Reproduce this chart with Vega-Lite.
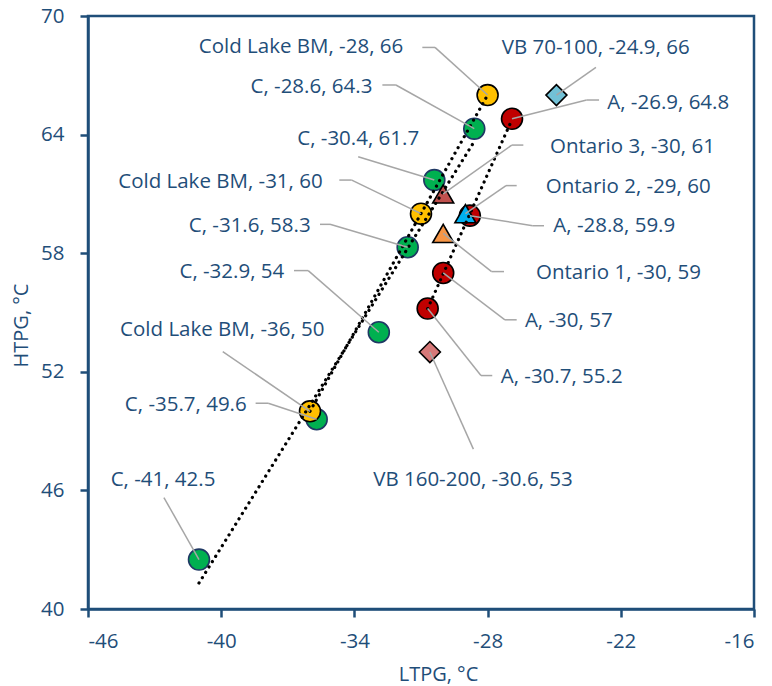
{
  "$schema": "https://vega.github.io/schema/vega-lite/v6.json",
  "width": 666,
  "height": 593,
  "autosize": {"type": "none"},
  "padding": {"left": 88, "top": 16, "right": 18, "bottom": 77},
  "background": "white",
  "config": {
    "font": "Open Sans",
    "view": {"stroke": "#1F4E79", "strokeWidth": 2.5},
    "axis": {
      "domainColor": "#1F4E79", "domainWidth": 2.5,
      "tickColor": "#1F4E79", "tickWidth": 2.5, "tickSize": 8,
      "labelColor": "#1F4E79", "labelFontSize": 20.5, "labelFont": "Open Sans",
      "titleColor": "#1F4E79", "titleFontSize": 20, "titleFont": "Open Sans", "titleFontWeight": "normal",
      "titleAlign": "center",
      "labelExpr": "replace(datum.label, '−', '-')",
      "grid": false
    }
  },
  "datasets": {
    "pts": [
      {"series": "C", "ltpg": -41, "htpg": 42.5, "label": "C, -41, 42.5", "side": "center", "tx": -42.62, "ty": 46.54, "ex": -42.58, "ey": 45.64, "fx": -42.58},
      {"series": "C", "ltpg": -35.7, "htpg": 49.6, "label": "C, -35.7, 49.6", "side": "right", "tx": -38.85, "ty": 50.33, "ex": -37.88, "ey": 50.41, "fx": -38.45},
      {"series": "C", "ltpg": -32.9, "htpg": 54, "label": "C, -32.9, 54", "side": "right", "tx": -37.16, "ty": 57.07, "ex": -36.08, "ey": 57.12, "fx": -36.72},
      {"series": "C", "ltpg": -31.6, "htpg": 58.3, "label": "C, -31.6, 58.3", "side": "right", "tx": -35.97, "ty": 59.38, "ex": -35.1, "ey": 59.46, "fx": -35.55},
      {"series": "C", "ltpg": -30.4, "htpg": 61.7, "label": "C, -30.4, 61.7", "side": "center", "tx": -33.83, "ty": 63.76, "ex": -33.83, "ey": 62.88, "fx": -33.83},
      {"series": "C", "ltpg": -28.6, "htpg": 64.3, "label": "C, -28.6, 64.3", "side": "right", "tx": -33.19, "ty": 66.42, "ex": -32.13, "ey": 66.51, "fx": -32.74},
      {"series": "A", "ltpg": -26.9, "htpg": 64.8, "label": "A, -26.9, 64.8", "side": "left", "tx": -22.61, "ty": 65.61, "ex": -23.54, "ey": 65.75, "fx": -22.98},
      {"series": "A", "ltpg": -28.8, "htpg": 59.9, "label": "A, -28.8, 59.9", "side": "left", "tx": -25.04, "ty": 59.39, "ex": -25.97, "ey": 59.39, "fx": -25.46},
      {"series": "A", "ltpg": -30, "htpg": 57, "label": "A, -30, 57", "side": "left", "tx": -26.32, "ty": 54.59, "ex": -27.22, "ey": 54.63, "fx": -26.69},
      {"series": "A", "ltpg": -30.7, "htpg": 55.2, "label": "A, -30.7, 55.2", "side": "left", "tx": -27.41, "ty": 51.76, "ex": -28.3, "ey": 51.81, "fx": -27.79},
      {"series": "Cold Lake BM", "ltpg": -36, "htpg": 50, "label": "Cold Lake BM, -36, 50", "side": "center", "tx": -39.95, "ty": 54.12, "ex": -39.93, "ey": 53.02, "fx": -39.93},
      {"series": "Cold Lake BM", "ltpg": -31, "htpg": 60, "label": "Cold Lake BM, -31, 60", "side": "right", "tx": -35.43, "ty": 61.62, "ex": -34.12, "ey": 61.7, "fx": -34.68},
      {"series": "Cold Lake BM", "ltpg": -28, "htpg": 66, "label": "Cold Lake BM, -28, 66", "side": "right", "tx": -31.8, "ty": 68.43, "ex": -30.37, "ey": 68.41, "fx": -30.94},
      {"series": "Ontario 1", "ltpg": -30, "htpg": 59, "label": "Ontario 1, -30, 59", "side": "left", "tx": -25.82, "ty": 57.02, "ex": -27.82, "ey": 57.07, "fx": -27.26},
      {"series": "Ontario 2", "ltpg": -29, "htpg": 60, "label": "Ontario 2, -29, 60", "side": "left", "tx": -25.38, "ty": 61.37, "ex": -27.17, "ey": 61.42, "fx": -26.69},
      {"series": "Ontario 3", "ltpg": -30, "htpg": 61, "label": "Ontario 3, -30, 61", "side": "left", "tx": -25.19, "ty": 63.36, "ex": -26.91, "ey": 63.47, "fx": -26.39},
      {"series": "VB 70-100", "ltpg": -24.9, "htpg": 66, "label": "VB 70-100, -24.9, 66", "side": "center", "tx": -23.13, "ty": 68.39, "ex": -23.12, "ey": 67.4, "fx": -23.12},
      {"series": "VB 160-200", "ltpg": -30.6, "htpg": 53, "label": "VB 160-200, -30.6, 53", "side": "center", "tx": -28.66, "ty": 46.54, "ex": -28.64, "ey": 48.09, "fx": -28.64}
    ]
  },
  "data": {"name": "pts"},
  "layer": [
    {
      "mark": {"type": "point", "filled": true, "size": 440, "strokeWidth": 1.6, "opacity": 1},
      "encoding": {
        "x": {"field": "ltpg", "type": "quantitative",
              "scale": {"domain": [-46, -16], "nice": false, "zero": false},
              "axis": {"values": [-46, -40, -34, -28, -22, -16], "title": "LTPG, °C", "labelPadding": 14, "titlePadding": 13, "titleX": 350}},
        "y": {"field": "htpg", "type": "quantitative",
              "scale": {"domain": [40, 70], "nice": false, "zero": false},
              "axis": {"values": [40, 46, 52, 58, 64, 70], "title": "HTPG, °C", "labelPadding": 16, "titlePadding": 9, "titleY": 309}},
        "fill": {"field": "series", "type": "nominal", "legend": null,
                 "scale": {"domain": ["C", "A", "Cold Lake BM", "Ontario 1", "Ontario 2", "Ontario 3", "VB 70-100", "VB 160-200"],
                           "range": ["#00B050", "#C00000", "#FFC000", "#F79646", "#00B0F0", "#C0504D", "#72C1D6", "#D67878"]}},
        "stroke": {"field": "series", "type": "nominal", "legend": null,
                   "scale": {"domain": ["C", "A", "Cold Lake BM", "Ontario 1", "Ontario 2", "Ontario 3", "VB 70-100", "VB 160-200"],
                             "range": ["#1F3864", "#000000", "#000000", "#000000", "#000000", "#000000", "#000000", "#000000"]}},
        "shape": {"field": "series", "type": "nominal", "legend": null,
                  "scale": {"domain": ["C", "A", "Cold Lake BM", "Ontario 1", "Ontario 2", "Ontario 3", "VB 70-100", "VB 160-200"],
                            "range": ["circle", "circle", "circle", "triangle-up", "triangle-up", "triangle-up", "diamond", "diamond"]}}
      }
    },
    {
      "transform": [
        {"filter": {"field": "series", "oneOf": ["C", "A", "Cold Lake BM"]}},
        {"regression": "htpg", "on": "ltpg", "groupby": ["series"]}
      ],
      "mark": {"type": "line", "color": "#000000", "strokeWidth": 3.2, "strokeDash": [0.1, 6.2], "strokeCap": "round"},
      "encoding": {
        "x": {"field": "ltpg", "type": "quantitative"},
        "y": {"field": "htpg", "type": "quantitative"},
        "detail": {"field": "series", "type": "nominal"}
      }
    },
    {
      "mark": {"type": "rule", "color": "#A6A6A6", "strokeWidth": 1.5},
      "encoding": {
        "x": {"field": "ltpg", "type": "quantitative"},
        "y": {"field": "htpg", "type": "quantitative"},
        "x2": {"field": "ex"},
        "y2": {"field": "ey"}
      }
    },
    {
      "mark": {"type": "rule", "color": "#A6A6A6", "strokeWidth": 1.5},
      "encoding": {
        "x": {"field": "ex", "type": "quantitative"},
        "y": {"field": "ey", "type": "quantitative"},
        "x2": {"field": "fx"},
        "y2": {"field": "ey"}
      }
    },
    {
      "transform": [{"filter": {"field": "side", "equal": "right"}}],
      "mark": {"type": "text", "align": "right", "baseline": "middle", "fontSize": 20.5, "font": "Open Sans", "color": "#1F4E79"},
      "encoding": {
        "x": {"field": "tx", "type": "quantitative"},
        "y": {"field": "ty", "type": "quantitative"},
        "text": {"field": "label"}
      }
    },
    {
      "transform": [{"filter": {"field": "side", "equal": "left"}}],
      "mark": {"type": "text", "align": "left", "baseline": "middle", "fontSize": 20.5, "font": "Open Sans", "color": "#1F4E79"},
      "encoding": {
        "x": {"field": "tx", "type": "quantitative"},
        "y": {"field": "ty", "type": "quantitative"},
        "text": {"field": "label"}
      }
    },
    {
      "transform": [{"filter": {"field": "side", "equal": "center"}}],
      "mark": {"type": "text", "align": "center", "baseline": "middle", "fontSize": 20.5, "font": "Open Sans", "color": "#1F4E79"},
      "encoding": {
        "x": {"field": "tx", "type": "quantitative"},
        "y": {"field": "ty", "type": "quantitative"},
        "text": {"field": "label"}
      }
    }
  ]
}
